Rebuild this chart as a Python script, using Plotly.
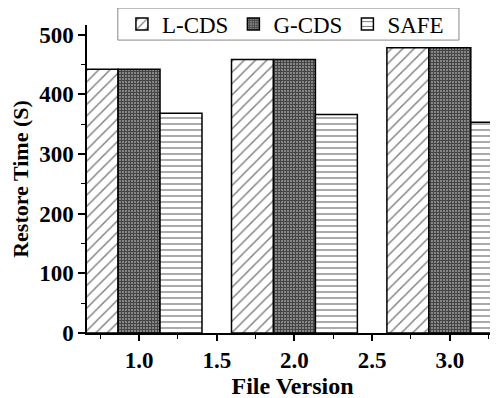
import plotly.graph_objects as go

versions = [1.0, 2.0, 3.0]
series_names = ["L-CDS", "G-CDS", "SAFE"]
lcds = [442, 458, 478]
gcds = [442, 458, 478]
safe = [368, 366, 353]

x_ticks = [1.0, 1.5, 2.0, 2.5, 3.0]
x_tick_labels = ["1.0", "1.5", "2.0", "2.5", "3.0"]
y_ticks = [0, 100, 200, 300, 400, 500]

patterns = [
    dict(shape="/", size=8, solidity=0.18, fgcolor="black", bgcolor="white"),
    dict(shape="+", size=3, solidity=0.6, fgcolor="black", bgcolor="#8a8a8a"),
    dict(shape="-", size=6, solidity=0.22, fgcolor="black", bgcolor="white"),
]

fig = go.Figure()
for name, vals, pat in zip(series_names, [lcds, gcds, safe], patterns):
    fig.add_trace(go.Bar(
        x=versions, y=vals, name=name,
        marker=dict(color="white", pattern=pat,
                    line=dict(color="black", width=1.5)),
    ))

serif = "Liberation Serif"
# legend frame drawn as a paper-referenced rectangle
fig.add_shape(type="rect", xref="paper", yref="paper",
              x0=0.075, x1=0.905, y0=0.951, y1=1.055,
              line=dict(color="#888888", width=1), fillcolor="white", layer="below")

fig.update_layout(
    width=498, height=398,
    margin=dict(l=79, r=8, t=17, b=73, autoexpand=False),
    paper_bgcolor="white", plot_bgcolor="white",
    barmode="group", bargap=0.19, bargroupgap=0,
    font=dict(family=serif, color="black"),
    showlegend=True,
    legend=dict(
        orientation="h", x=0.085, y=1.003, xanchor="left", yanchor="middle",
        bgcolor="rgba(0,0,0,0)", borderwidth=0,
        font=dict(family=serif, size=23, color="black"),
        traceorder="normal", itemwidth=30,
    ),
    xaxis=dict(
        range=[0.665, 3.31], tickmode="array", tickvals=x_ticks,
        ticktext=x_tick_labels, ticks="outside", ticklen=6, tickwidth=1.5,
        tickcolor="black", showline=True, linecolor="black", linewidth=1.5,
        showgrid=False, zeroline=False, automargin=False,
        tickfont=dict(family=serif, size=23, weight="bold"),
        minor=dict(ticks="outside", ticklen=4, tickwidth=1.2, tickcolor="black",
                   dtick=0.25, tick0=0, showgrid=False),
        title=dict(text="File Version", font=dict(family=serif, size=24, weight="bold"),
                   standoff=1),
    ),
    yaxis=dict(
        range=[0, 516], tickmode="array", tickvals=y_ticks,
        ticks="outside", ticklen=7, tickwidth=1.5, tickcolor="black",
        showline=True, linecolor="black", linewidth=1.5,
        showgrid=False, zeroline=False, automargin=False,
        tickfont=dict(family=serif, size=23, weight="bold"),
        minor=dict(ticks="outside", ticklen=4, tickwidth=1.2, tickcolor="black",
                   dtick=50, tick0=0, showgrid=False),
        title=dict(text="Restore Time (S)", font=dict(family=serif, size=22, weight="bold"),
                   standoff=8),
    ),
)

fig.write_html("out.html")
